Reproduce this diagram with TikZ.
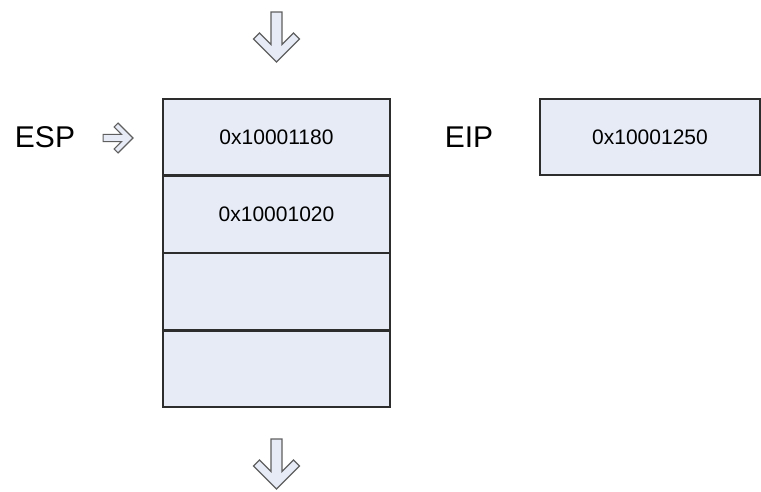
\documentclass[tikz,border=0pt]{standalone}
\usepackage{fontspec}
\setmainfont{Liberation Sans}
\usepackage{tikz}
\usetikzlibrary{positioning}
\definecolor{cellfill}{RGB}{230,235,246}
\definecolor{cellline}{RGB}{45,45,45}
\definecolor{arrowline}{RGB}{95,95,95}
\tikzstyle{cell} = [rectangle, draw=cellline, line width=1.3pt, fill=cellfill, minimum width=227pt, minimum height=76pt, inner sep=0pt, font=\fontsize{21}{24}\selectfont]
\tikzstyle{reglabel} = [font=\fontsize{30}{34}\selectfont]
\tikzstyle{hollow} = [draw=arrowline, line width=1.1pt, fill=cellfill, line join=miter]
\tikzset{
  pics/notcharrow/.style={code={
    \draw[hollow] (0,0) -- (-23,23) -- (-17,29) -- (-5.5,17.5) -- (-5.5,#1)
      -- (5.5,#1) -- (5.5,17.5) -- (17,29) -- (23,23) -- cycle;
  }}
}

\begin{document}
\begin{tikzpicture}[x=1pt, y=1pt]
    \useasboundingbox (0,0) rectangle (761,-491);

    % stack slots
    \node (slot1) [cell] at (276.5,-137) {0x10001180};
    \node (slot2) [cell, below=0pt of slot1] {0x10001020};
    \node (slot3) [cell, below=0pt of slot2] {};
    \node (slot4) [cell, below=0pt of slot3] {};

    % registers
    \node (esp) [reglabel] at (45,-137) {ESP};
    \node (eip) [reglabel] at (469,-137) {EIP};
    \node (eipval) [cell, minimum width=220pt] at (650,-137) {0x10001250};

    % arrows
    \pic at (276.5,-62) {notcharrow=50};
    \pic at (276.5,-489) {notcharrow=50};
    \pic[rotate=90, scale=0.65] at (133,-138) {notcharrow=46};
\end{tikzpicture}
\end{document}
